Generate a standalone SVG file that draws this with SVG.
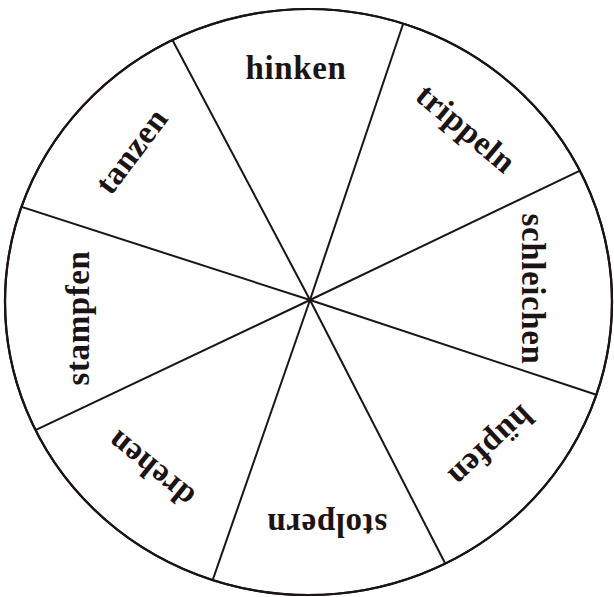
<svg xmlns="http://www.w3.org/2000/svg" width="614" height="597" viewBox="0 0 614 597">
  <style>
    .rim { fill: #ffffff; stroke: #1c1414; stroke-width: 2.2; }
    .spoke { stroke: #1c1414; stroke-width: 2; fill: none; }
    .lbl { font-family: "Liberation Serif", "Times New Roman", serif; font-size: 33px; font-weight: bold; fill: #1c1414; text-anchor: middle; letter-spacing: 0.6px; }
  </style>
  <defs>
    <clipPath id="wheelClip">
      <ellipse cx="308.5" cy="302" rx="303.5" ry="293"/>
    </clipPath>
  </defs>
  <rect width="614" height="597" fill="#ffffff"/>
  <ellipse class="rim" cx="308.5" cy="302" rx="303.5" ry="293"/>
  <g id="connectors" clip-path="url(#wheelClip)">
    <line class="spoke" x1="310" y1="300" x2="165" y2="26"/>
    <line class="spoke" x1="310" y1="300" x2="407.7" y2="10.2"/>
    <line class="spoke" x1="310" y1="300" x2="592.5" y2="164.6"/>
    <line class="spoke" x1="310" y1="300" x2="611.4" y2="399.8"/>
    <line class="spoke" x1="310" y1="300" x2="452.8" y2="578.3"/>
    <line class="spoke" x1="310" y1="300" x2="208.2" y2="593"/>
    <line class="spoke" x1="310" y1="300" x2="26.5" y2="434.4"/>
    <line class="spoke" x1="310" y1="300" x2="7.6" y2="202.4"/>
  </g>
  <ellipse cx="308.5" cy="302" rx="303.5" ry="293" fill="none" stroke="#1c1414" stroke-width="2.2"/>
  <g id="hinken" transform="translate(296,70) rotate(0)">
    <text class="lbl" x="0" y="9">hinken</text>
  </g>
  <g id="trippeln" transform="translate(465,130) rotate(40)">
    <text class="lbl" x="0" y="9">trippeln</text>
  </g>
  <g id="schleichen" transform="translate(531,289) rotate(90)">
    <text class="lbl" x="0" y="9">schleichen</text>
  </g>
  <g id="huepfen" transform="translate(490,445) rotate(137)">
    <text class="lbl" x="0" y="9">hüpfen</text>
  </g>
  <g id="stolpern" transform="translate(327,523) rotate(180)">
    <text class="lbl" x="0" y="9">stolpern</text>
  </g>
  <g id="drehen" transform="translate(152,468) rotate(219)">
    <text class="lbl" x="0" y="9">drehen</text>
  </g>
  <g id="stampfen" transform="translate(80,318) rotate(-90)">
    <text class="lbl" x="0" y="9">stampfen</text>
  </g>
  <g id="tanzen" transform="translate(133,152) rotate(-53)">
    <text class="lbl" x="0" y="9">tanzen</text>
  </g>
</svg>
